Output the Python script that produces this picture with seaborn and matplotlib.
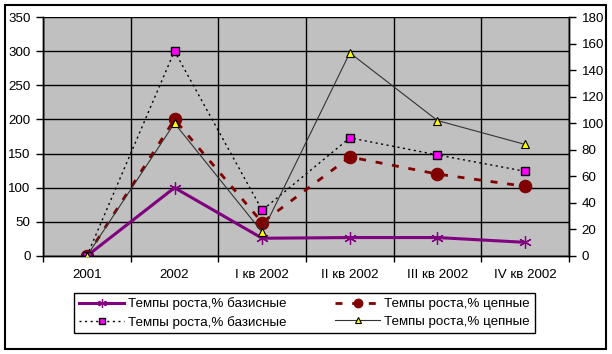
import matplotlib
matplotlib.use("Agg")
import matplotlib.pyplot as plt
import numpy as np
import pandas as pd
import seaborn as sns
from matplotlib.patches import Rectangle

# Categories and series values
CATEGORIES = ["2001", "2002", "I кв 2002", "II кв 2002", "III кв 2002", "IV кв 2002"]
BASE_1 = [0, 100, 26, 27, 27, 20]        # purple, left axis
CHAIN_1 = [0, 200, 49, 145, 120, 102]    # dark red, left axis
BASE_2 = [0, 300, 67, 173, 148, 124]     # magenta squares, left axis
CHAIN_2 = [0, 100, 18, 153, 102, 84]     # yellow triangles, right axis
LABEL_BASE = "Темпы роста,% базисные"
LABEL_CHAIN = "Темпы роста,% цепные"

LEFT_TICKS = list(range(0, 351, 50))
RIGHT_TICKS = list(range(0, 181, 20))

WIDTH, HEIGHT = 612, 354

plt.rcParams["font.family"] = ["Liberation Sans", "DejaVu Sans"]
plt.rcParams["font.size"] = 9.6

df = pd.DataFrame({
    "pos": np.arange(len(CATEGORIES)),
    "base1": BASE_1,
    "chain1": CHAIN_1,
    "base2": BASE_2,
    "chain2": CHAIN_2,
})

fig = plt.figure(figsize=(WIDTH / 100, HEIGHT / 100), dpi=100)
ax = fig.add_axes([43 / WIDTH, 1 - 256 / HEIGHT, (569 - 43) / WIDTH, (256 - 17) / HEIGHT])
ax.set_facecolor("#C0C0C0")
ax2 = ax.twinx()

# outer frame around the whole chart
fig.patches.append(Rectangle((5 / WIDTH, 1 - 349 / HEIGHT), 601 / WIDTH, 344 / HEIGHT,
                             transform=fig.transFigure, fill=False, edgecolor="black",
                             linewidth=1.5))

sns.lineplot(data=df, x="pos", y="base1", ax=ax, color="#800080", linewidth=2.2,
             marker=(6, 2, 0), markersize=9, markeredgecolor="#800080",
             markeredgewidth=0.9, label=LABEL_BASE, legend=False, zorder=5)
sns.lineplot(data=df, x="pos", y="chain1", ax=ax, color="#800000", linewidth=2,
             linestyle=(0, (2.5, 3.5)), marker="o", markersize=9,
             markeredgecolor="#800000", label=LABEL_CHAIN, legend=False, zorder=4)
sns.lineplot(data=df, x="pos", y="base2", ax=ax, color="black", linewidth=1,
             linestyle=(0, (1.5, 2.5)), marker="s", markersize=6,
             markerfacecolor="#FF00FF", markeredgecolor="black", markeredgewidth=1,
             label=LABEL_BASE, legend=False, zorder=6)
sns.lineplot(data=df, x="pos", y="chain2", ax=ax2, color="#333333", linewidth=0.8,
             marker="^", markersize=6, markerfacecolor="#FFFF00",
             markeredgecolor="black", markeredgewidth=0.8,
             label=LABEL_CHAIN, legend=False, zorder=5)

for a in (ax, ax2):
    if a.get_legend() is not None:
        a.get_legend().remove()
    a.set_xlabel("")
    a.set_ylabel("")

# axes
ax.set_xlim(-0.5, len(CATEGORIES) - 0.5)
ax.set_ylim(0, 350)
ax2.set_ylim(0, 180)
ax.set_yticks(LEFT_TICKS)
ax2.set_yticks(RIGHT_TICKS)
ax.set_xticks(np.arange(len(CATEGORIES)))
ax.set_xticklabels(CATEGORIES)
ax.set_xticks(np.arange(-0.5, len(CATEGORIES)), minor=True)
ax.tick_params(axis="x", which="major", length=0, pad=9)
ax.tick_params(axis="x", which="minor", length=4, width=1, color="black")
ax.tick_params(axis="y", length=5, width=1, pad=4, color="black")
ax2.tick_params(axis="y", length=5, width=1, pad=4, color="black")

ax.grid(axis="y", color="black", linewidth=1)
ax.grid(axis="x", which="minor", color="black", linewidth=1)
ax.set_axisbelow(True)
for a in (ax, ax2):
    for side, sp in a.spines.items():
        sp.set_linewidth(1)
        sp.set_color("black")
    a.spines["top"].set_visible(False)

# legend: row 1 purple / dark red, row 2 magenta / yellow
h1, l1 = ax.get_legend_handles_labels()
h2, l2 = ax2.get_legend_handles_labels()
handles = [h1[0], h1[2], h1[1], h2[0]]
labels = [l1[0], l1[2], l1[1], l2[0]]
leg = fig.legend(handles, labels, ncol=2, loc="center",
                 bbox_to_anchor=(304.5 / WIDTH, 1 - 313 / HEIGHT),
                 frameon=True, fancybox=False, edgecolor="black", framealpha=1,
                 handlelength=3.4, columnspacing=3.6, handletextpad=0.3,
                 labelspacing=0.4, borderpad=0.35, markerscale=0.7)
leg.get_frame().set_linewidth(1)

fig.savefig("out.png", dpi=100)
